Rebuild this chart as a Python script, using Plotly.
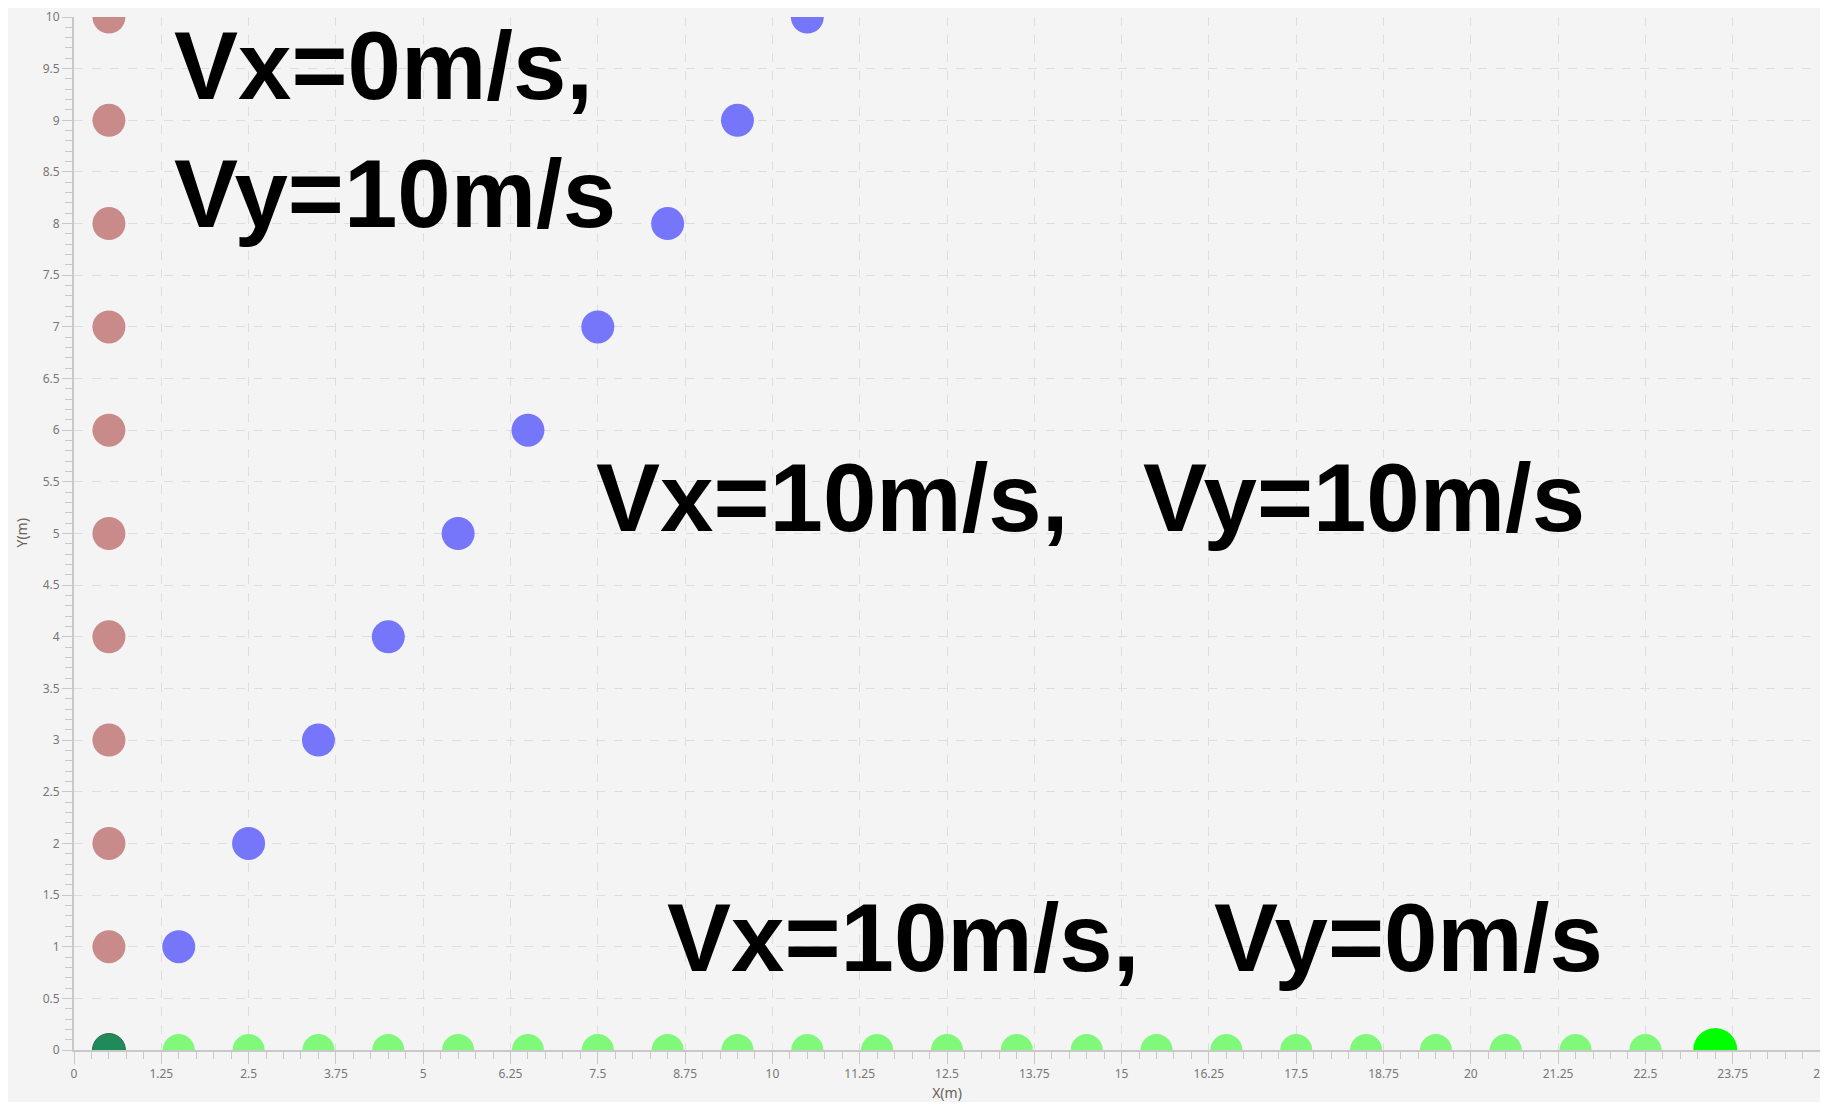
import plotly.graph_objects as go

# fall straight down: Vx=0, Vy=10
fall_x = [0.5, 0.5, 0.5, 0.5, 0.5, 0.5, 0.5, 0.5, 0.5, 0.5]
fall_y = [1, 2, 3, 4, 5, 6, 7, 8, 9, 10]

# diagonal: Vx=10, Vy=10
diag_x = [1.5, 2.5, 3.5, 4.5, 5.5, 6.5, 7.5, 8.5, 9.5, 10.5]
diag_y = [1, 2, 3, 4, 5, 6, 7, 8, 9, 10]

# horizontal: Vx=10, Vy=0
horiz_x = [1.5, 2.5, 3.5, 4.5, 5.5, 6.5, 7.5, 8.5, 9.5, 10.5, 11.5, 12.5,
           13.5, 14.5, 15.5, 16.5, 17.5, 18.5, 19.5, 20.5, 21.5, 22.5]
horiz_y = [0] * len(horiz_x)

start_x, start_y = [0.5], [0]
end_x, end_y = [23.5], [0]

x_ticks = [0, 1.25, 2.5, 3.75, 5, 6.25, 7.5, 8.75, 10, 11.25, 12.5, 13.75, 15,
           16.25, 17.5, 18.75, 20, 21.25, 22.5, 23.75, 25]
y_ticks = [0, 0.5, 1, 1.5, 2, 2.5, 3, 3.5, 4, 4.5, 5, 5.5, 6, 6.5, 7, 7.5, 8,
           8.5, 9, 9.5, 10]

labels = ['Vx=0m/s,', 'Vy=10m/s', 'Vx=10m/s,\u2002 Vy=10m/s', 'Vx=10m/s,\u2002 Vy=0m/s']
label_x = [1.41, 1.41, 7.45, 8.46]
label_y = [9.53, 8.29, 5.35, 1.09]

bg = '#f4f4f4'
title_font = dict(family='Noto Sans', size=14, color='#6a6058')
fig = go.Figure()

fig.add_trace(go.Scatter(x=fall_x, y=fall_y, mode='markers',
                         marker=dict(size=33, color='#c98a8a', line=dict(width=0))))
fig.add_trace(go.Scatter(x=diag_x, y=diag_y, mode='markers',
                         marker=dict(size=33, color='#7676fa', line=dict(width=0))))
fig.add_trace(go.Scatter(x=horiz_x, y=horiz_y, mode='markers',
                         marker=dict(size=32, color='#80f97b', line=dict(width=0))))
fig.add_trace(go.Scatter(x=start_x, y=start_y, mode='markers',
                         marker=dict(size=33, color='#1f8a5a', line=dict(width=1, color='#3a6a55'))))
fig.add_trace(go.Scatter(x=end_x, y=end_y, mode='markers',
                         marker=dict(size=44, color='#00ff00', line=dict(width=0))))

for txt, tx, ty in zip(labels, label_x, label_y):
    fig.add_annotation(x=tx, y=ty, xref='x', yref='y', text='<b>' + txt + '</b>',
                       showarrow=False, xanchor='left', yanchor='middle',
                       font=dict(family='Liberation Sans', size=96, color='black'))

# y axis title drawn as an annotation so it can sit close to the page edge
fig.add_annotation(x=0, y=0.5, xref='paper', yref='paper', text='Y(m)', textangle=-90,
                   showarrow=False, xanchor='center', yanchor='middle', xshift=-53,
                   font=title_font)

axis_common = dict(
    showline=True, linecolor='#c8c8c8', linewidth=2,
    showgrid=True, gridcolor='#dedede', griddash='dash', gridwidth=1,
    zeroline=False, ticks='outside', tickcolor='#c8c8c8', tickwidth=1,
    tickfont=dict(family='Noto Sans', size=12, color='#777777'),
    tickmode='array', automargin=False,
)

fig.update_xaxes(range=[0, 25], tickvals=x_ticks, ticktext=[f'{v:g}' for v in x_ticks],
                 ticklen=12,
                 minor=dict(dtick=0.25, ticklen=7, tickcolor='#c8c8c8', ticks='outside', showgrid=False),
                 title=dict(text='X(m)', font=title_font, standoff=12),
                 **axis_common)
fig.update_yaxes(range=[0, 10], tickvals=y_ticks, ticktext=[f'{v:g}' for v in y_ticks],
                 ticklen=10,
                 minor=dict(dtick=0.1, ticklen=7, tickcolor='#c8c8c8', ticks='outside', showgrid=False),
                 **axis_common)

# the page body keeps an 8px margin; size the figure so the page does not scroll
fig.update_layout(width=1820, height=1094, showlegend=False,
                  paper_bgcolor=bg, plot_bgcolor=bg,
                  margin=dict(l=66, r=8, t=9, b=52))

fig.write_html("out.html")
